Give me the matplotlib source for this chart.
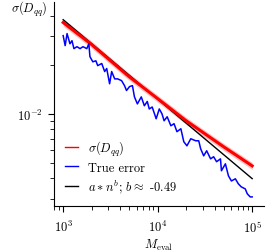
import numpy as np
import matplotlib
matplotlib.use("Agg")
import matplotlib.pyplot as plt

plt.rcParams["font.family"] = ["cmr10", "DejaVu Serif"]
plt.rcParams["mathtext.fontset"] = "cm"
plt.rcParams["axes.formatter.use_mathtext"] = True
plt.rcParams["font.size"] = 9

# true error
n_true = [1000, 1050, 1100, 1180, 1240, 1300, 1400, 1510, 1620, 1780, 1870, 1920,
          2060, 2220, 2320, 2560, 2750, 2890, 3100, 3260, 3510, 3770, 4150, 4460,
          4680, 5040, 5410, 5680, 6100, 6710, 7230, 7760, 8150, 8750, 9640, 10400,
          11100, 11700, 12600, 13800, 14900, 16000, 17600, 18900, 20400, 22400,
          25300, 27200, 28500, 30700, 33000, 36300, 39100, 42000, 46200, 47300,
          52100, 56100, 60300, 66400, 71300, 76700, 84500, 88700, 95300, 100000]
err_true = [0.0303, 0.0263, 0.0312, 0.0270, 0.0282, 0.0252, 0.0259, 0.0252, 0.0259,
            0.0252, 0.0270, 0.0225, 0.0209, 0.0212, 0.0198, 0.0204, 0.0182, 0.0190,
            0.0153, 0.0182, 0.0164, 0.0164, 0.0160, 0.0149, 0.0139, 0.0147, 0.0149,
            0.0127, 0.0115, 0.0127, 0.0112, 0.0119, 0.0107, 0.0110, 0.00931, 0.0107,
            0.0100, 0.00905, 0.00958, 0.00843, 0.00868, 0.00775, 0.00808, 0.00672,
            0.00634, 0.00701, 0.00681, 0.00681, 0.00608, 0.00550, 0.00591, 0.00527,
            0.00543, 0.00506, 0.00527, 0.00445, 0.00491, 0.00414, 0.00385, 0.00397,
            0.00370, 0.00354, 0.00344, 0.00321, 0.00307, 0.00307]

# estimated sigma(D_qq)
n_sig = [1000, 2000, 5000, 10000, 20000, 50000, 100000]
sig = [0.0365, 0.0267, 0.0169, 0.01239, 0.00905, 0.00625, 0.00477]

# power-law fit a * n^b
fit_a = 0.0380 * 1000 ** 0.49
fit_b = -0.49

n_fit = np.array([1000, 100000])
y_fit = fit_a * n_fit ** fit_b

# smooth the sigma curve in log space for drawing
n_s = np.logspace(3, 5, 60)
sig_s = 10 ** np.interp(np.log10(n_s), np.log10(n_sig), np.log10(sig))

fig = plt.figure(figsize=(2.66, 2.53), dpi=100)
ax = fig.add_axes([0.203, 0.182, 0.789, 0.807])

ax.fill_between(n_s, sig_s * 0.95, sig_s * 1.05, color="red", alpha=0.25, lw=0)
ax.plot(n_fit, y_fit, color="black", lw=1.0, zorder=2)
ax.plot(n_s, sig_s, color="red", lw=2.2, zorder=3)
ax.plot(n_true, err_true, color="blue", lw=1.1, zorder=4)

# legend handles
ax.plot([], [], color="red", lw=1.0, label=r"$\sigma(D_{qq})$")
ax.plot([], [], color="blue", lw=1.0, label="True error")
ax.plot([], [], color="black", lw=1.0, label=r"$a * n^b$; $b \approx$ -0.49")

ax.set_xscale("log")
ax.set_yscale("log")
ax.set_xlim(800, 1.33e5)
ax.set_ylim(0.0027, 0.049)

ax.spines["top"].set_visible(False)
ax.spines["right"].set_visible(False)
ax.tick_params(which="minor", length=3)
ax.tick_params(which="major", length=4.5)
ax.tick_params(axis="x", which="major", pad=5)

ax.set_xlabel(r"$M_{\mathrm{eval}}$", labelpad=1)
ax.set_ylabel(r"$\sigma(D_{qq})$", rotation=0, ha="right", va="center")
ax.yaxis.set_label_coords(-0.03, 0.965)

ax.legend(loc="lower left", frameon=False, handlelength=1.0, handletextpad=0.8,
          labelspacing=0.3)

fig.savefig("out.png", dpi=100)
